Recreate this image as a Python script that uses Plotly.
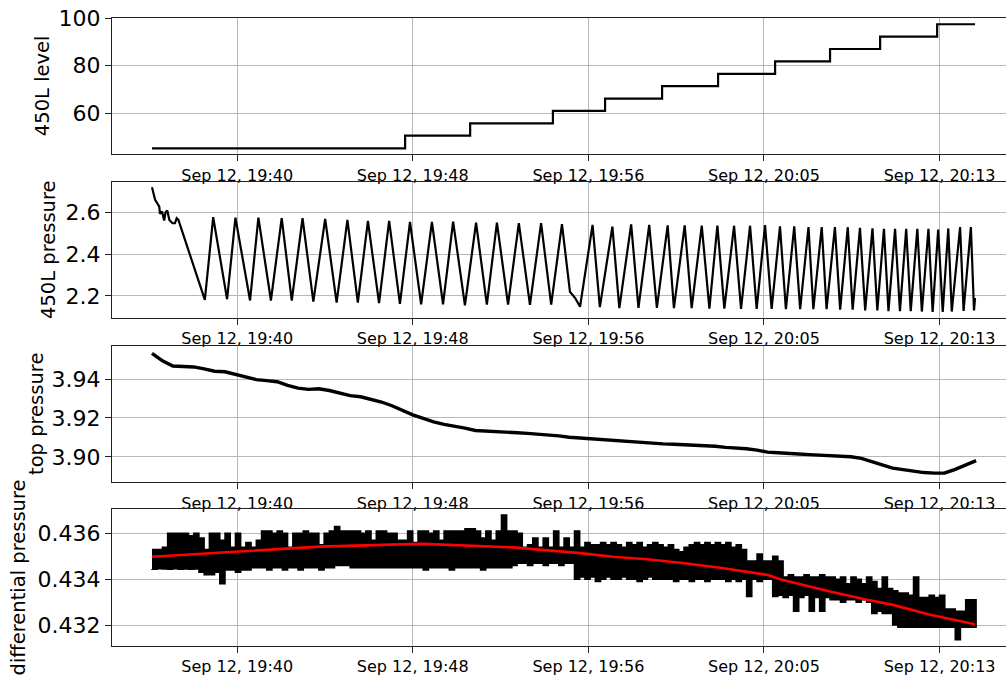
import pandas as pd
import plotly.graph_objects as go

# Recording start; every series below is given in seconds after this instant
T0 = pd.Timestamp("2021-09-12 19:36:00")

# 450L tank level (stepwise)
level_t = [0, 728, 915, 1153, 1303, 1467, 1628, 1792, 1950, 2094, 2258, 2367]
level_v = [45.3, 50.6, 55.8, 61.0, 66.2, 71.4, 76.6, 81.8, 87.0, 92.2, 97.4, 97.4]

# 450L pressure (turning points of the pump cycle)
press_t = [0, 9, 21, 23, 29, 35, 39, 44, 50, 59, 66, 71, 76, 152,
           176, 216, 240, 282, 306, 342, 373, 402, 433, 464, 498, 531, 562,
           592, 621, 653, 682, 713, 742, 774, 805, 837, 866, 900, 932, 963, 992,
           1024, 1055, 1087, 1119, 1148, 1179, 1202, 1217, 1231,
           1267, 1288, 1324, 1344, 1378, 1399, 1430, 1452, 1483, 1501, 1532, 1552,
           1581, 1603, 1626, 1646, 1674, 1694, 1720, 1739, 1763, 1782, 1806, 1823,
           1847, 1864, 1888, 1902, 1926, 1940, 1964, 1979, 2001, 2015, 2036, 2051,
           2072, 2086, 2105, 2118, 2137, 2151, 2169, 2182, 2201, 2214, 2233, 2245,
           2261, 2274, 2290, 2300, 2324, 2334, 2355, 2364, 2367]
press_v = [2.722, 2.661, 2.629, 2.594, 2.605, 2.562, 2.602, 2.610, 2.565, 2.549, 2.549, 2.573, 2.565, 2.181,
           2.578, 2.184, 2.576, 2.178, 2.576, 2.178, 2.573, 2.178, 2.573, 2.173, 2.570, 2.168, 2.565,
           2.168, 2.560, 2.165, 2.560, 2.162, 2.555, 2.160, 2.555, 2.160, 2.557, 2.155, 2.552, 2.158, 2.552,
           2.158, 2.550, 2.157, 2.550, 2.158, 2.545, 2.220, 2.190, 2.148,
           2.541, 2.146, 2.533, 2.141, 2.544, 2.143, 2.541, 2.143, 2.539, 2.141, 2.539, 2.141,
           2.538, 2.139, 2.538, 2.139, 2.537, 2.138, 2.537, 2.138, 2.540, 2.138, 2.534, 2.136,
           2.534, 2.136, 2.531, 2.136, 2.531, 2.136, 2.530, 2.134, 2.530, 2.134, 2.527, 2.130,
           2.524, 2.130, 2.522, 2.127, 2.522, 2.127, 2.522, 2.127, 2.522, 2.125, 2.522, 2.123,
           2.519, 2.123, 2.524, 2.125, 2.531, 2.128, 2.531, 2.130, 2.190]

# top pressure, one reading every 30 s
top_dt = 30
top_v = [3.9532, 3.9493, 3.9467, 3.9466, 3.9462, 3.9452, 3.9440, 3.9437, 3.9425, 3.9411,
         3.9397, 3.9392, 3.9386, 3.9367, 3.9353, 3.9347, 3.9350, 3.9341, 3.9327, 3.9315,
         3.9309, 3.9297, 3.9282, 3.9263, 3.9238, 3.9216, 3.9198, 3.9180, 3.9167, 3.9159,
         3.9148, 3.9136, 3.9132, 3.9129, 3.9127, 3.9124, 3.9121, 3.9118, 3.9113, 3.9108,
         3.9101, 3.9097, 3.9094, 3.9087, 3.9085, 3.9081, 3.9077, 3.9071, 3.9068, 3.9067,
         3.9065, 3.9063, 3.9062, 3.9061, 3.9055, 3.9049, 3.9047, 3.9042, 3.9035, 3.9025,
         3.9022, 3.9017, 3.9015, 3.9012, 3.9010, 3.9008, 3.9005, 3.9001, 3.8993, 3.8978,
         3.8959, 3.8943, 3.8935, 3.8925, 3.8920, 3.8917, 3.8918, 3.8936, 3.8957, 3.8981]

# differential pressure: max / min of the raw signal in 15 s bins
dp_dt = 15
dp_hi = [0.4353, 0.4353, 0.4354, 0.4360, 0.4360, 0.4360, 0.4360, 0.4359, 0.4360, 0.4358,
         0.4353, 0.4360, 0.4360, 0.4357, 0.4360, 0.4354, 0.4360, 0.4354, 0.4356, 0.4354,
         0.4357, 0.4361, 0.4361, 0.4360, 0.4361, 0.4360, 0.4354, 0.4360, 0.4360, 0.4361,
         0.4360, 0.4360, 0.4355, 0.4360, 0.4361, 0.4363, 0.4361, 0.4361, 0.4361, 0.4361,
         0.4360, 0.4361, 0.4357, 0.4361, 0.4361, 0.4360, 0.4360, 0.4357, 0.4357, 0.4361,
         0.4356, 0.4361, 0.4361, 0.4360, 0.4361, 0.4357, 0.4361, 0.4361, 0.4361, 0.4361,
         0.4362, 0.4362, 0.4361, 0.4358, 0.4361, 0.4357, 0.4361, 0.4368, 0.4361, 0.4361,
         0.4360, 0.4354, 0.4355, 0.4358, 0.4354, 0.4358, 0.4354, 0.4361, 0.4354, 0.4358,
         0.4354, 0.4361, 0.4354, 0.4356, 0.4355, 0.4355, 0.4356, 0.4355, 0.4356, 0.4355,
         0.4354, 0.4356, 0.4355, 0.4356, 0.4354, 0.4355, 0.4356, 0.4355, 0.4354, 0.4355,
         0.4353, 0.4352, 0.4354, 0.4355, 0.4356, 0.4355, 0.4356, 0.4355, 0.4356, 0.4355,
         0.4356, 0.4354, 0.4355, 0.4353, 0.4348, 0.4348, 0.4351, 0.4348, 0.4348, 0.4350,
         0.4348, 0.4341, 0.4342, 0.4341, 0.4341, 0.4342, 0.4341, 0.4341, 0.4342, 0.4341,
         0.4341, 0.4340, 0.4341, 0.4338, 0.4341, 0.4340, 0.4338, 0.4341, 0.4339, 0.4336,
         0.4341, 0.4336, 0.4335, 0.4334, 0.4334, 0.4333, 0.4341, 0.4332, 0.4332, 0.4333,
         0.4332, 0.4333, 0.4327, 0.4327, 0.4326, 0.4326, 0.4331, 0.4331, 0.4331]
dp_lo = [0.43445, 0.43443, 0.43446, 0.43445, 0.43444, 0.43446, 0.43444, 0.43445, 0.43443, 0.43445,
         0.4343, 0.4342, 0.4342, 0.4343, 0.4338, 0.4344, 0.4344, 0.4343, 0.4344, 0.4344,
         0.4345, 0.4345, 0.4345, 0.4344, 0.4345, 0.4345, 0.4344, 0.4345, 0.4345, 0.4344,
         0.4345, 0.4345, 0.4345, 0.4344, 0.4345, 0.4345, 0.4346, 0.4346, 0.4346, 0.4345,
         0.4345, 0.4345, 0.4345, 0.4345, 0.4345, 0.4345, 0.4345, 0.4345, 0.4345, 0.4345,
         0.4345, 0.4345, 0.4345, 0.4344, 0.4345, 0.4345, 0.4345, 0.4345, 0.4344, 0.4345,
         0.4345, 0.4345, 0.4345, 0.4345, 0.4344, 0.4345, 0.4345, 0.4345, 0.4345, 0.4345,
         0.4346, 0.4347, 0.4347, 0.4346, 0.4347, 0.4347, 0.4346, 0.4347, 0.4347, 0.4346,
         0.4347, 0.4347, 0.4340, 0.4341, 0.4340, 0.4341, 0.4339, 0.4340, 0.4341, 0.4340,
         0.4340, 0.4341, 0.4340, 0.4340, 0.4339, 0.4340, 0.4341, 0.4340, 0.4340, 0.4340,
         0.4340, 0.4339, 0.4340, 0.4340, 0.4339, 0.4340, 0.4340, 0.4339, 0.4340, 0.4340,
         0.4340, 0.4339, 0.4340, 0.4339, 0.4340, 0.43325, 0.4340, 0.4339, 0.4340, 0.4340,
         0.43325, 0.4333, 0.4332, 0.4333, 0.4326, 0.4332, 0.4333, 0.4326, 0.4332, 0.4326,
         0.4332, 0.4331, 0.4331, 0.4330, 0.4331, 0.4331, 0.4330, 0.4331, 0.4330, 0.4325,
         0.4326, 0.4325, 0.4325, 0.4320, 0.4319, 0.4319, 0.4319, 0.4319, 0.4319, 0.4319,
         0.4319, 0.4319, 0.4319, 0.4319, 0.4319, 0.43136, 0.4319, 0.4319, 0.4319]

# smoothed differential pressure
trend_t = [0, 233, 483, 713, 779, 1038, 1231, 1326, 1424, 1519, 1634, 1769, 1806, 1950, 2056, 2131, 2238, 2367]
trend_v = [0.43498, 0.43520, 0.43542, 0.43552, 0.43554, 0.43539, 0.43514, 0.43498, 0.43487,
           0.43472, 0.43450, 0.43419, 0.43400, 0.43346, 0.43310, 0.43288, 0.43245, 0.43204]

y_titles = ["450L level", "450L pressure", "top pressure", "differential pressure"]
y_ranges = [[42.8, 100.02], [2.094, 2.747], [3.887, 3.9571], [0.4311, 0.43705]]
y_ticks = [[60, 80, 100], [2.2, 2.4, 2.6], [3.90, 3.92, 3.94], [0.432, 0.434, 0.436]]
y_fmt = ["d", ".1f", ".2f", ".3f"]
x_ticks = ["2021-09-12 19:40:05", "2021-09-12 19:48:30", "2021-09-12 19:56:55",
           "2021-09-12 20:05:20", "2021-09-12 20:13:45"]


def at(seconds):
    return [T0 + pd.Timedelta(seconds=s) for s in seconds]


def grid(n, step):
    return [T0 + pd.Timedelta(seconds=i * step) for i in range(n)]


FONT = "DejaVu Sans"
W, H = 1006, 677
LEFT = 112
# plot-area rows in pixels from the top of the page
rows_px = [(18, 154.3), (182, 318), (345.7, 482.3), (509.3, 645.7)]
y_label_x = [42, 48, 36, 18]

fig = go.Figure()
line = dict(color="black", width=2.2)

fig.add_trace(go.Scatter(x=at(level_t), y=level_v, mode="lines", line_shape="hv",
                         line=line, xaxis="x", yaxis="y", showlegend=False))
fig.add_trace(go.Scatter(x=at(press_t), y=press_v, mode="lines",
                         line=line, xaxis="x2", yaxis="y2", showlegend=False))
fig.add_trace(go.Scatter(x=grid(len(top_v), top_dt), y=top_v, mode="lines",
                         line=dict(color="black", width=3.4), xaxis="x3", yaxis="y3",
                         showlegend=False))
dp_times = grid(len(dp_hi), dp_dt)
fig.add_trace(go.Scatter(x=dp_times + dp_times[::-1], y=dp_hi + dp_lo[::-1], mode="lines",
                         fill="toself", fillcolor="black", line_shape="hv",
                         line=dict(color="black", width=1.5),
                         xaxis="x4", yaxis="y4", showlegend=False))
fig.add_trace(go.Scatter(x=at(trend_t), y=trend_v, mode="lines",
                         line=dict(color="red", width=2.6), xaxis="x4", yaxis="y4",
                         showlegend=False))

x_range = [T0 - pd.Timedelta(seconds=115), T0 + pd.Timedelta(seconds=2456)]
layout = dict(width=W, height=H, margin=dict(l=0, r=0, t=0, b=0, autoexpand=False),
              paper_bgcolor="white", plot_bgcolor="white",
              font=dict(family=FONT, color="black"))
annotations = []
for r in range(4):
    top, bot = rows_px[r]
    dom = [1 - bot / H, 1 - top / H]
    sx = "" if r == 0 else str(r + 1)
    layout["xaxis" + sx] = dict(
        domain=[LEFT / W, 1.0], anchor="y" + sx, type="date", range=x_range,
        tickvals=x_ticks, tickformat="%b %d, %H:%M", automargin=False,
        ticks="outside", ticklen=6, tickwidth=1, tickcolor="#222",
        showline=True, linecolor="#222", linewidth=1, mirror=True,
        showgrid=True, gridcolor="#b8b8b8", gridwidth=1, zeroline=False,
        tickfont=dict(size=16, family=FONT, color="black"))
    layout["yaxis" + sx] = dict(
        domain=dom, anchor="x" + sx, range=y_ranges[r], tickvals=y_ticks[r],
        tickformat=y_fmt[r], automargin=False, ticks="outside", ticklen=6,
        tickwidth=1, tickcolor="#222",
        showline=True, linecolor="#222", linewidth=1, mirror=False,
        showgrid=True, gridcolor="#b8b8b8", gridwidth=1, zeroline=False,
        tickfont=dict(size=22, family=FONT, color="black"))
    annotations.append(dict(text=y_titles[r], textangle=-90, showarrow=False,
                            xref="paper", yref="paper",
                            x=y_label_x[r] / W, y=1 - (top + bot) / 2 / H,
                            xanchor="center", yanchor="middle",
                            font=dict(size=19.5, family=FONT, color="black")))
layout["annotations"] = annotations
fig.update_layout(**layout)

fig.write_html("out.html")
